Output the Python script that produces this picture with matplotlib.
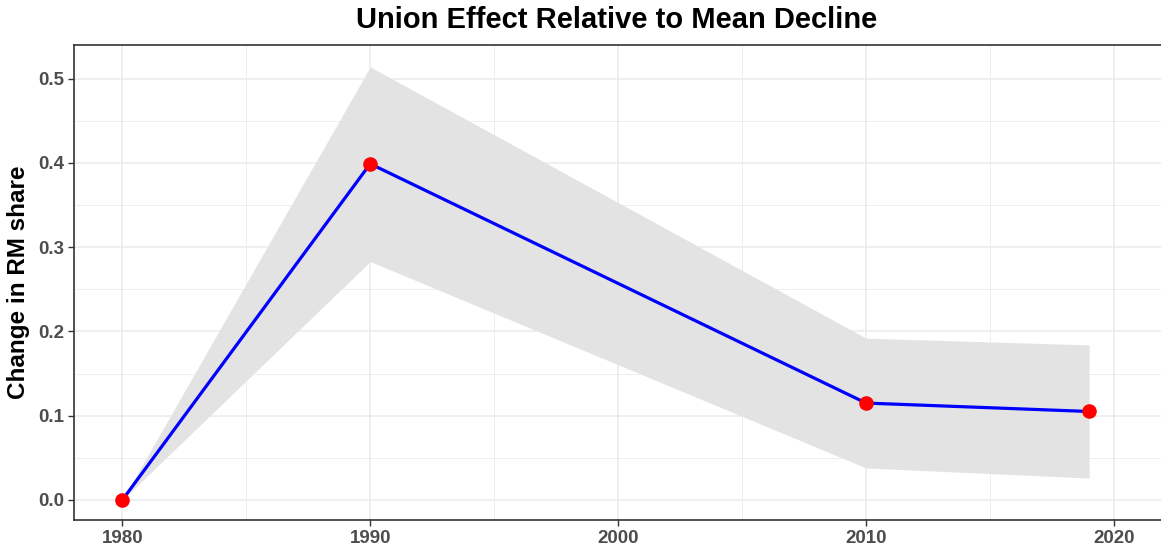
import matplotlib
matplotlib.use("Agg")
import matplotlib.pyplot as plt
import numpy as np

plt.rcParams["font.family"] = ["Liberation Sans", "DejaVu Sans"]

years = [1980, 1990, 2010, 2019]
effect = [0.0, 0.399, 0.115, 0.105]
upper = [0.0, 0.514, 0.192, 0.184]
lower = [0.0, 0.283, 0.038, 0.026]

x_ticks = [1980, 1990, 2000, 2010, 2020]
y_ticks = [0.0, 0.1, 0.2, 0.3, 0.4, 0.5]

W, H = 1161, 552
fig = plt.figure(figsize=(W / 100, H / 100), dpi=100)
ax = fig.add_axes([74 / W, (H - 520) / H, (1161 - 74) / W, (520 - 45) / H])

grid = "#EBEBEB"
for v in np.arange(1975, 2025, 5):
    ax.axvline(v, color=grid, lw=1.1 if v % 10 == 0 else 0.6, zorder=0)
for v in np.arange(0, 0.56, 0.05):
    major = abs(round(v * 10) - v * 10) < 1e-6
    ax.axhline(v, color=grid, lw=1.1 if major else 0.6, zorder=0)

ax.fill_between(years, lower, upper, color="#E3E3E3", lw=0, zorder=1)
ax.plot(years, effect, color="#0000FF", lw=2.3, zorder=2)
ax.plot(years, effect, "o", color="#FF0000", ms=9.5, zorder=3)

ax.set_xlim(1978.05, 2021.9)
ax.set_ylim(-0.0238, 0.540)
ax.set_xticks(x_ticks)
ax.set_yticks(y_ticks)
ax.set_yticklabels([f"{v:.1f}" for v in y_ticks])
ax.tick_params(colors="#333333", labelcolor="#4D4D4D", labelsize=13.5, length=4, width=1, pad=3)
for lab in ax.get_xticklabels() + ax.get_yticklabels():
    lab.set_fontweight("bold")
for side in ["left", "bottom", "top"]:
    ax.spines[side].set_color("#333333")
    ax.spines[side].set_linewidth(1.2)
ax.spines["right"].set_visible(False)

ax.set_ylabel("Change in RM share", fontsize=17.5, fontweight="bold", labelpad=6)
fig.text(617 / W, 1 - 20 / H, "Union Effect Relative to Mean Decline",
         ha="center", va="center", fontsize=21, fontweight="bold")

fig.savefig("out.png", dpi=100)
